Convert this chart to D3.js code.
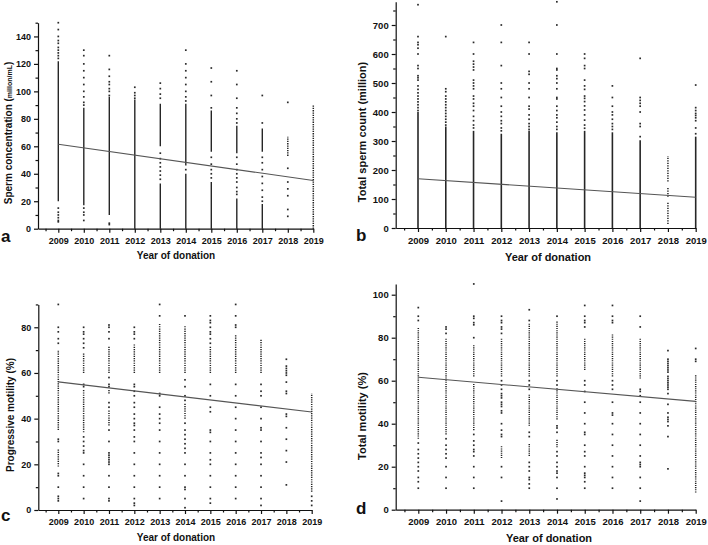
<!DOCTYPE html>
<html><head><meta charset="utf-8">
<script src="https://cdn.jsdelivr.net/npm/d3@7"></script>
<style>
body{margin:0;background:#fff}
svg{display:block}
text{font-family:"Liberation Sans",Arial,Helvetica,sans-serif;fill:#111}
</style>
</head><body>
<svg id="chart" width="708" height="545"></svg>
<script>
// ---------- shared categories ----------
const years = [2009, 2010, 2011, 2012, 2013, 2014, 2015, 2016, 2017, 2018, 2019];

// ---------- panel a: sperm concentration (million/mL) ----------
const concSolid = [
  [[20, 122]], [[17, 88]], [[10, 96]], [[0, 94]], [[0, 33], [60, 91]],
  [[0, 40], [46, 91]], [[0, 34], [56, 86]], [[0, 22], [55, 75]], [[0, 18], [56, 73]], [], []
];
const concDotted = [[], [], [], [], [], [], [], [], [], [[53, 67]], [[0, 90]]];
const concSparse = [
  [150, 145, 140, 137, 135, 132, 130, 128, 126, 124, 15, 12, 10, 8, 6, 5],
  [130, 126, 120, 115, 110, 105, 100, 96, 92, 90, 15, 12, 10, 6],
  [126, 116, 111, 107, 105, 102, 100, 97, 4, 3],
  [103, 99, 97, 95],
  [106, 102, 98, 95, 55, 51, 48, 45, 42, 39, 36],
  [130, 120, 115, 110, 105, 100, 96, 93, 43],
  [117, 107, 97, 88, 52, 47, 43, 40, 37],
  [115, 105, 95, 88, 84, 80, 77, 52, 47, 43, 40, 37, 34, 30, 27, 25],
  [97, 77, 52, 48, 43, 38, 33, 28, 23, 20],
  [92, 44, 34, 29, 24, 14, 9],
  []
];
const concTrend = [61.5, 35.1];
const concTicks = [0, 20, 40, 60, 80, 100, 120, 140];
const concMinor = [10, 30, 50, 70, 90, 110, 130, 150];

// ---------- panel b: total sperm count (million) ----------
const countSolid = [
  [[0, 400]], [[0, 350]], [[0, 335]], [[0, 325]], [[0, 335]],
  [[0, 330]], [[0, 335]], [[0, 330]], [[0, 303]], [], [[0, 315]]
];
const countDotted = [[], [], [], [], [], [], [], [], [], [[160, 248], [108, 140], [14, 90]], []];
const countSparse = [
  [770, 660, 640, 632, 620, 600, 560, 550, 525, 518, 510, 490, 478, 466, 455, 445, 435, 425, 415, 405],
  [660, 480, 470, 455, 445, 435, 425, 415, 405, 395, 385, 375, 365, 355],
  [640, 600, 575, 565, 555, 545, 510, 500, 490, 480, 455, 445, 430, 420, 405, 385, 370, 355, 345],
  [700, 640, 560, 500, 480, 450, 420, 400, 385, 370, 360, 345, 335],
  [640, 600, 540, 530, 500, 480, 450, 420, 410, 390, 375, 360, 350, 340],
  [780, 700, 600, 550, 545, 525, 515, 500, 480, 450, 445, 420, 405, 390, 380, 365, 350, 340],
  [600, 585, 560, 550, 510, 490, 478, 455, 447, 436, 421, 407, 390, 372, 355, 344],
  [490, 450, 420, 400, 390, 375, 360, 350, 340],
  [585, 450, 440, 430, 420, 400, 360, 350, 315],
  [],
  [493, 415, 405, 395, 388, 380, 370, 345, 325]
];
const countTrend = [170, 106];
const countTicks = [0, 100, 200, 300, 400, 500, 600, 700];
const countMinor = [50, 150, 250, 350, 450, 550, 650, 750];

// ---------- panel c: progressive motility (%) ----------
const progSolid = [[], [], [], [], [], [], [], [], [], [], []];
const progDotted = [
  [[19, 27], [35, 70]], [[60, 69], [34, 53]], [[60, 72], [37, 44], [51, 53]], [[60, 73]], [[60, 82]],
  [[60, 81], [40, 47]], [[60, 72]], [[60, 77]], [[60, 75]], [], [[8, 51]]
];
const progSparse = [
  [90, 80, 78, 75, 73, 31, 30, 16, 15, 10, 6, 5, 4],
  [80, 78, 77, 75, 73, 71, 55, 54, 32, 30, 28, 26, 25, 20, 15, 10, 5],
  [81, 80, 78, 75, 58, 55, 54, 47, 45, 35, 30, 25, 24, 23, 22, 21, 20, 15, 10, 5, 4],
  [80, 78, 77, 75, 55, 54, 52, 50, 47, 45, 42, 40, 38, 37, 35, 32, 30, 25, 20, 15, 10, 5, 3, 2],
  [90, 85, 51, 50, 45, 42, 40, 38, 35, 30, 25, 20, 15, 10, 5],
  [85, 57, 54, 50, 48, 38, 35, 33, 31, 29, 27, 25, 20, 15, 10, 9, 5, 1],
  [85, 83, 82, 80, 78, 77, 75, 73, 55, 50, 45, 43, 35, 34, 30, 25, 22, 20, 15, 10, 5, 3],
  [90, 85, 81, 80, 55, 50, 45, 40, 35, 30, 25, 20, 15, 10, 5],
  [55, 52, 50, 45, 40, 36, 35, 30, 25, 23, 20, 15, 10, 5, 2],
  [66, 63, 62, 61, 60, 59, 56, 52, 51, 42, 41, 36, 31, 26, 21, 11],
  [6, 4, 2]
];
const progTrend = [56.1, 42.9];
const progTicks = [0, 20, 40, 60, 80];
const progMinor = [10, 30, 50, 70, 90];

// ---------- panel d: total motility (%) ----------
const totSolid = [[], [], [], [], [], [], [], [], [], [], []];
const totDotted = [
  [[33, 85]], [[35, 80]], [[62, 77], [37, 59]], [[62, 80], [24, 30]], [[62, 87], [39, 54], [25, 31]],
  [[62, 88], [42, 57], [29, 33]], [[65, 80]], [[62, 82]], [[61, 80]], [], [[8, 63]]
];
const totSparse = [
  [94, 90, 88, 31, 28, 26, 24, 22, 20, 18, 15, 13, 10],
  [85, 84, 82, 33, 30, 28, 26, 24, 20, 15, 10],
  [105, 90, 89, 87, 86, 80, 35, 32, 30, 28, 27, 25, 20, 15, 10],
  [90, 88, 87, 85, 84, 82, 60, 58, 56, 54, 53, 52, 50, 49, 48, 46, 45, 40, 37, 35, 34, 20, 15, 4],
  [93, 88, 60, 58, 56, 36, 34, 22, 20, 18, 15, 14, 12, 10],
  [90, 60, 58, 39, 38, 36, 27, 25, 22, 20, 18, 17, 15, 10, 5],
  [95, 90, 88, 87, 85, 60, 58, 55, 50, 45, 40, 36, 35, 30, 27, 25, 20, 17, 16, 15, 13, 10],
  [95, 90, 88, 87, 60, 58, 56, 50, 45, 44, 40, 35, 30, 25, 20, 15, 10],
  [90, 85, 56, 55, 53, 50, 45, 40, 35, 30, 25, 22, 21, 20, 15, 10, 4],
  [74, 70, 69, 68, 67, 66, 65, 64, 62, 61, 60, 59, 58, 57, 56, 54, 49, 45, 43, 42, 41, 39, 34, 19],
  [75, 70, 69]
];
const totTrend = [61.6, 50.4];
const totTicks = [0, 20, 40, 60, 80, 100];
const totMinor = [10, 30, 50, 70, 90];

const svg = d3.select("#chart");

function panel(o) {
  const pxPerYear = (o.p2019 - o.p2009) / 10;
  const xmin = 2009 - (o.p2009 - o.left) / pxPerYear;
  const x = d3.scaleLinear().domain([xmin, 2019]).range([o.left, o.p2019]);
  const y = d3.scaleLinear().domain([0, o.ymax]).range([o.y0, o.ytop]);
  const g = svg.append("g");

  const solidRows = [];
  years.forEach((yr, i) => o.solid[i].forEach(s => solidRows.push({yr, lo: s[0], hi: s[1]})));
  g.selectAll("line.solid").data(solidRows).join("line")
    .attr("x1", d => x(d.yr)).attr("x2", d => x(d.yr))
    .attr("y1", d => y(d.lo)).attr("y2", d => y(d.hi))
    .attr("stroke", "#262626").attr("stroke-width", o.solidW);

  const dotRows = [];
  years.forEach((yr, i) => o.dotted[i].forEach(s => dotRows.push({yr, lo: s[0], hi: s[1]})));
  g.selectAll("line.dot").data(dotRows).join("line")
    .attr("x1", d => x(d.yr)).attr("x2", d => x(d.yr))
    .attr("y1", d => y(d.lo)).attr("y2", d => y(d.hi))
    .attr("stroke", "#222").attr("stroke-width", 1.5)
    .attr("stroke-dasharray", o.dash);

  const pts = [];
  years.forEach((yr, i) => o.sparse[i].forEach(v => pts.push({yr, v})));
  g.selectAll("rect.pt").data(pts).join("rect")
    .attr("x", d => x(d.yr) - 0.85).attr("y", d => y(d.v) - 0.85)
    .attr("width", 1.7).attr("height", 1.7).attr("fill", "#2a2a2a");

  g.append("line")
    .attr("x1", x(2009)).attr("y1", y(o.trend[0]))
    .attr("x2", x(2019)).attr("y2", y(o.trend[1]))
    .attr("stroke", "#555").attr("stroke-width", 1.1);

  const ax = g.append("g").attr("transform", `translate(0,${o.y0})`)
    .call(d3.axisBottom(x).tickValues(years).tickFormat(d3.format("d")).tickSize(4).tickSizeOuter(0).tickPadding(5));
  const axm = g.append("g").attr("transform", `translate(0,${o.y0})`)
    .call(d3.axisBottom(x).tickValues(years.map(v => v - 0.5)).tickFormat("").tickSize(2.5).tickSizeOuter(0));
  axm.select(".domain").remove();
  const ay = g.append("g").attr("transform", `translate(${o.left},0)`)
    .call(d3.axisLeft(y).tickValues(o.ticks).tickSize(4).tickSizeOuter(0).tickPadding(3));
  const aym = g.append("g").attr("transform", `translate(${o.left},0)`)
    .call(d3.axisLeft(y).tickValues(o.minor).tickFormat("").tickSize(2.5).tickSizeOuter(0));
  aym.select(".domain").remove();
  [ax, ay, axm, aym].forEach(a => {
    a.selectAll("path,line").attr("stroke", "#111").attr("stroke-width", 1.2);
    a.selectAll("text").attr("font-size", o.tickFont).attr("fill", "#111")
      .attr("font-weight", "bold")
      .style("font-family", '"Liberation Sans",Arial,sans-serif');
  });

  g.append("text").attr("x", o.xtX).attr("y", o.xtY).attr("text-anchor", "middle")
    .attr("font-size", o.titleFont).attr("font-weight", "bold").text("Year of donation");
  const yt = g.append("text")
    .attr("transform", `translate(${o.ytX},${o.ytY}) rotate(-90)`)
    .attr("text-anchor", "middle").attr("font-size", o.titleFont).attr("font-weight", "bold");
  o.ytitle.forEach(part => {
    yt.append("tspan").attr("font-size", part.small ? o.titleFont * 0.7 : null).text(part.t);
  });
  g.append("text").attr("x", o.lx).attr("y", o.ly).attr("font-size", 17).attr("font-weight", "bold").text(o.letter);
}

panel({
  left: 38, p2009: 58.3, p2019: 313.3, y0: 228.7, ytop: 22.7, ymax: 150,
  solid: concSolid, dotted: concDotted, sparse: concSparse, trend: concTrend,
  ticks: concTicks, minor: concMinor, dash: "1.3,1", solidW: 1.4,
  tickFont: 9, titleFont: 10,
  xtX: 176, xtY: 259, ytX: 11.5, ytY: 133,
  ytitle: [{t: "Sperm concentration ("}, {t: "millon/mL", small: true}, {t: ")"}],
  letter: "a", lx: 1, ly: 242
});
panel({
  left: 395.7, p2009: 418, p2019: 695.7, y0: 228, ytop: 228 - 780 * 203 / 700, ymax: 780,
  solid: countSolid, dotted: countDotted, sparse: countSparse, trend: countTrend,
  ticks: countTicks, minor: countMinor, dash: "1.3,1.2", solidW: 1.6,
  tickFont: 9.5, titleFont: 11,
  xtX: 548, xtY: 261, ytX: 366, ytY: 132,
  ytitle: [{t: "Total sperm count (million)"}],
  letter: "b", lx: 356, ly: 241
});
panel({
  left: 38.3, p2009: 58.3, p2019: 311.7, y0: 510, ytop: 510 - 90 * 2.284, ymax: 90,
  solid: progSolid, dotted: progDotted, sparse: progSparse, trend: progTrend,
  ticks: progTicks, minor: progMinor, dash: "1.2,1.08", solidW: 1.4,
  tickFont: 9, titleFont: 10,
  xtX: 176, xtY: 541, ytX: 14, ytY: 415,
  ytitle: [{t: "Progressive motility (%)"}],
  letter: "c", lx: 1, ly: 521
});
panel({
  left: 395.7, p2009: 418.3, p2019: 695.7, y0: 509.7, ytop: 509.7 - 105 * 2.15, ymax: 105,
  solid: totSolid, dotted: totDotted, sparse: totSparse, trend: totTrend,
  ticks: totTicks, minor: totMinor, dash: "1.1,1.05", solidW: 1.4,
  tickFont: 9.5, titleFont: 11,
  xtX: 549, xtY: 542, ytX: 366, ytY: 416,
  ytitle: [{t: "Total motility (%)"}],
  letter: "d", lx: 356, ly: 514
});
</script>
</body></html>
